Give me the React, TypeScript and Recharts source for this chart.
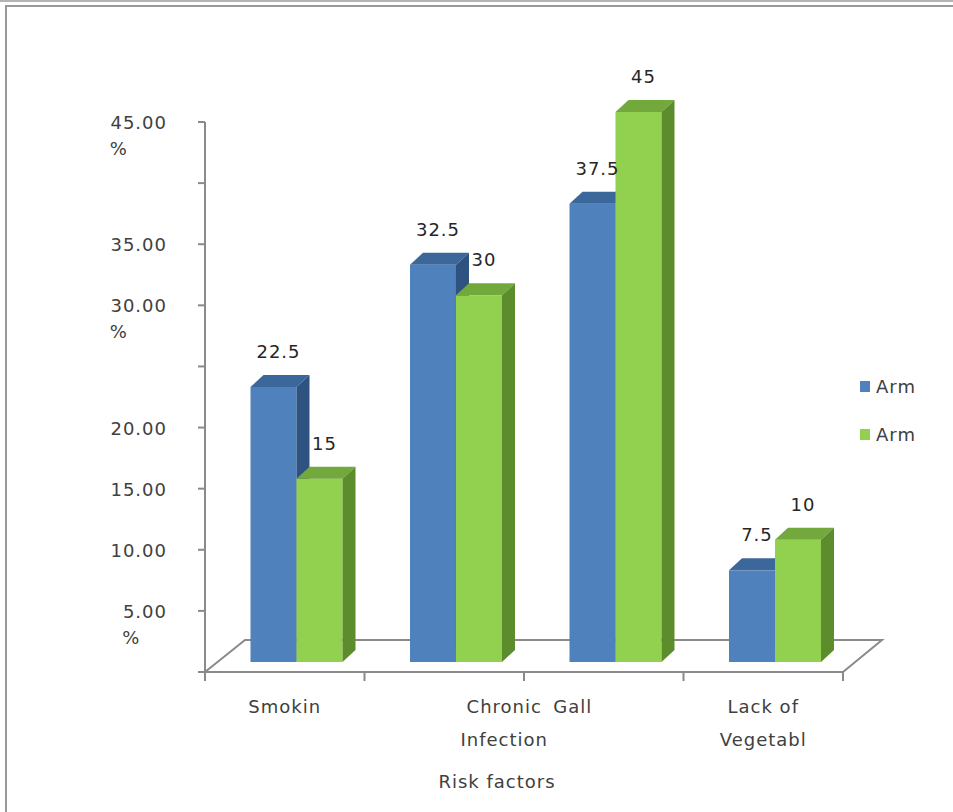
import React from "react";
import { BarChart, Bar, XAxis, YAxis, Legend } from "recharts";

// values
const categories = ["Smokin", "Chronic Infection", "Gall", "Lack of Vegetabl"];
const blueValues = [22.5, 32.5, 37.5, 7.5];
const greenValues = [15, 30, 45, 10];
const seriesNames = ["Arm", "Arm"];
const yTicks = [0, 5, 10, 15, 20, 25, 30, 35, 40, 45];
const yTickLabels = ["", "5.00\n%", "10.00", "15.00", "20.00", "", "30.00\n%", "35.00", "", "45.00\n%"];
const xTickLines = [["Smokin"], ["Chronic", "Infection"], ["Gall"], ["Lack of", "Vegetabl"]];

const data = categories.map((cat, i) => ({ cat, blue: blueValues[i], green: greenValues[i] }));

const BLUE = { front: "#4f81bd", top: "#3c679b", side: "#2f5380" };
const GREEN = { front: "#92d050", top: "#72a83c", side: "#5c8c2c" };
const SWATCH = [BLUE.front, GREEN.front];

// 3d look: bars sit a bit back in the floor
const DX = 12;
const DY = -10;
const DEPTH_X = 13;
const DEPTH_Y = 12;

const AXIS = "#8a8a8a";
const TEXT = "#404040";

// plot box (margin.left + yaxis width, etc.)
const PLOT = { left: 205, right: 843, bottom: 672 };
const FLOOR_X = 40;
const FLOOR_Y = 32;
const BAND = (PLOT.right - PLOT.left) / categories.length;

// label shifts for the odd Excel wrapping of the category names
const X_LABEL_SHIFT = [0, 60, -31, 0];

function Bar3D(props: any) {
  const { x, y, width: w, height: h, colors } = props;
  if (!w || h == null) return null;
  const fx = x + DX;
  const fy = y + DY;
  return (
    <g>
      <rect x={fx} y={fy} width={w} height={h} fill={colors.front} />
      <polygon
        points={`${fx},${fy} ${fx + DEPTH_X},${fy - DEPTH_Y} ${fx + w + DEPTH_X},${fy - DEPTH_Y} ${fx + w},${fy}`}
        fill={colors.top}
      />
      <polygon
        points={`${fx + w},${fy} ${fx + w + DEPTH_X},${fy - DEPTH_Y} ${fx + w + DEPTH_X},${fy + h - DEPTH_Y} ${fx + w},${fy + h}`}
        fill={colors.side}
      />
    </g>
  );
}

function barLabel(p: any) {
  return (
    <text
      x={p.x + DX + p.width / 2 + 5}
      y={p.y + DY - 29}
      textAnchor="middle"
      fill="#262626"
      fontSize={18}
    >
      {p.value}
    </text>
  );
}

function approxWidth(s: string) {
  let w = 0;
  for (const ch of s) w += ch === "." ? 6.9 : 12.6;
  return w;
}

function YTick(props: any) {
  const { x, y, payload } = props;
  const i = yTicks.indexOf(payload.value);
  const label = yTickLabels[i] || "";
  if (!label) return null;
  const [num, pct] = label.split("\n");
  const end = x - 29;
  return (
    <g>
      <text x={end} y={y + 7} textAnchor="end" fill={TEXT} fontSize={18}>
        {num}
      </text>
      {pct && (
        <text x={end - approxWidth(num)} y={y + 33} textAnchor="start" fill={TEXT} fontSize={18}>
          {pct}
        </text>
      )}
    </g>
  );
}

// category labels + the boundary ticks Excel puts between categories
function XTick(props: any) {
  const { x, y, index } = props;
  const lines = xTickLines[index] || [];
  const cx = x + (X_LABEL_SHIFT[index] || 0);
  const edges = [x - BAND / 2];
  if (index === categories.length - 1) edges.push(x + BAND / 2);
  return (
    <g>
      {edges.map((ex, k) => (
        <line key={"t" + k} x1={ex} x2={ex} y1={y} y2={y + 9} stroke={AXIS} strokeWidth={2} />
      ))}
      {lines.map((t, k) => (
        <text key={k} x={cx} y={y + 41 + k * 33} textAnchor="middle" fill={TEXT} fontSize={18}>
          {t}
        </text>
      ))}
    </g>
  );
}

function Floor() {
  const { left, right, bottom } = PLOT;
  return (
    <polyline
      points={`${left},${bottom} ${left + FLOOR_X},${bottom - FLOOR_Y} ${right + FLOOR_X - 1},${bottom - FLOOR_Y} ${right},${bottom}`}
      fill="none"
      stroke={AXIS}
      strokeWidth={2}
    />
  );
}

function LegendBox() {
  return (
    <div style={{ fontSize: 18, color: TEXT }}>
      {seriesNames.map((n, i) => (
        <div key={i} style={{ display: "flex", alignItems: "center", height: 24, marginBottom: 24 }}>
          <span style={{ display: "inline-block", width: 10, height: 11, background: SWATCH[i], marginRight: 6 }} />
          <span>{n}</span>
        </div>
      ))}
    </div>
  );
}

export default function App() {
  return (
    <div
      style={{
        position: "absolute",
        left: 0,
        top: 0,
        width: 953,
        height: 812,
        overflow: "hidden",
        background: "#fff",
        fontFamily: "'DejaVu Sans', sans-serif",
        letterSpacing: 1,
      }}
    >
      <div style={{ position: "absolute", left: 0, top: 0, width: 953, borderTop: "2px solid #b4b4b4" }} />
      <div
        style={{
          position: "absolute",
          left: 5,
          top: 5,
          width: 1000,
          height: 1000,
          borderLeft: "2px solid #999",
          borderTop: "2px solid #999",
        }}
      />
      <div style={{ position: "absolute", left: 0, top: 0 }}>
        <BarChart
          width={953}
          height={812}
          data={data}
          margin={{ top: 122, right: 110, bottom: 139, left: 105 }}
          barCategoryGap="21%"
          barGap={0}
        >
          <Floor />
          <XAxis
            dataKey="cat"
            height={1}
            tickSize={0}
            tickMargin={0}
            axisLine={{ stroke: AXIS, strokeWidth: 2 }}
            tickLine={false}
            tick={<XTick />}
            interval={0}
            label={{
              value: "Risk factors",
              position: "bottom",
              offset: 102,
              dx: -27,
              fill: TEXT,
              fontSize: 18,
            }}
          />
          <YAxis
            width={100}
            domain={[0, 45]}
            ticks={yTicks}
            interval={0}
            tickSize={7}
            axisLine={{ stroke: AXIS, strokeWidth: 2 }}
            tickLine={{ stroke: AXIS, strokeWidth: 2 }}
            tick={<YTick />}
          />
          <Legend
            layout="horizontal"
            verticalAlign="middle"
            align="center"
            wrapperStyle={{ left: 860, top: 374, width: 90 }}
            content={() => <LegendBox />}
          />
          <Bar
            dataKey="blue"
            name={seriesNames[0]}
            fill={BLUE.front}
            isAnimationActive={false}
            shape={(p: any) => <Bar3D {...p} colors={BLUE} />}
            label={barLabel}
          />
          <Bar
            dataKey="green"
            name={seriesNames[1]}
            fill={GREEN.front}
            isAnimationActive={false}
            shape={(p: any) => <Bar3D {...p} colors={GREEN} />}
            label={barLabel}
          />
        </BarChart>
      </div>
    </div>
  );
}
